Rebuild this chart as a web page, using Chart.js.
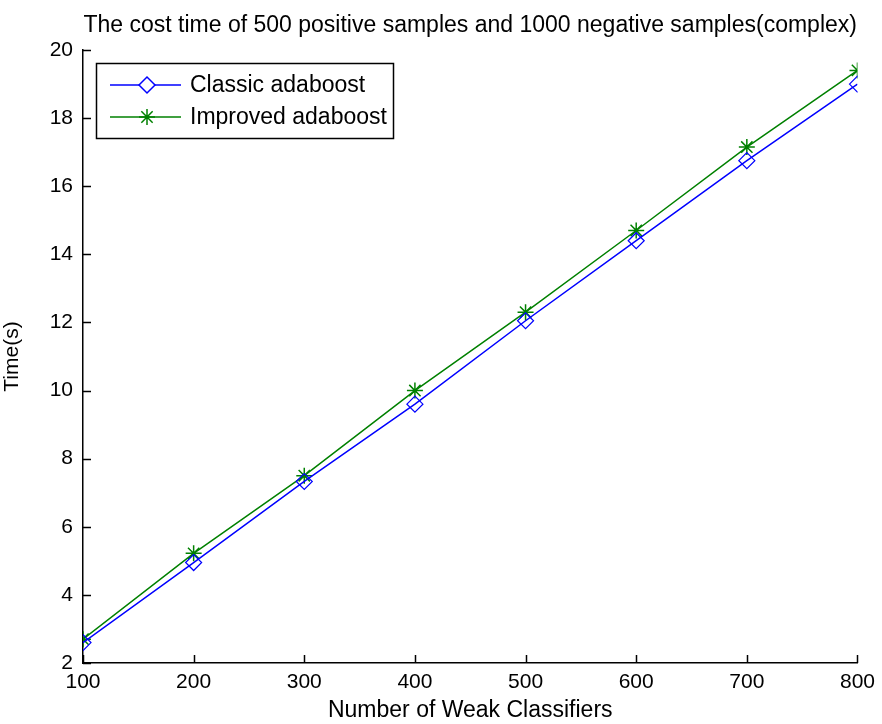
<!DOCTYPE html>
<html>
<head>
<meta charset="utf-8">
<script src="https://cdn.jsdelivr.net/npm/chart.js@4/dist/chart.umd.min.js"></script>
<style>
  html, body { margin: 0; padding: 0; background: #fff; }
  #wrap { width: 882px; height: 724px; }
</style>
</head>
<body>
<div id="wrap"><canvas id="chart" width="882" height="724"></canvas></div>
<script>
// --- Data ---
const classifiers = [100, 200, 300, 400, 500, 600, 700, 800];
const classicTime = [2.6, 4.95, 7.33, 9.6, 12.05, 14.4, 16.75, 19.0];
const improvedTime = [2.7, 5.22, 7.5, 10.0, 12.3, 14.7, 17.15, 19.4];
const seriesNames = ['Classic adaboost', 'Improved adaboost'];
const titleText = 'The cost time of 500 positive samples and 1000 negative samples(complex)';

const FONT = '"Liberation Sans", Arial, sans-serif';

const toPoints = (xs, ys) => xs.map((x, i) => ({ x, y: ys[i] }));

// title centred over the plot area (not the whole canvas)
const titlePlugin = {
  id: 'plotTitle',
  afterDraw(chart) {
    const { ctx, chartArea } = chart;
    ctx.save();
    ctx.font = '23px ' + FONT;
    ctx.fillStyle = '#000';
    ctx.textAlign = 'center';
    ctx.textBaseline = 'middle';
    ctx.fillText(titleText, (chartArea.left + chartArea.right) / 2, 26);
    ctx.restore();
  }
};

// inward tick marks, matlab style
const tickPlugin = {
  id: 'innerTicks',
  afterDatasetsDraw(chart) {
    const { ctx, chartArea, scales } = chart;
    ctx.save();
    ctx.strokeStyle = '#000';
    ctx.lineWidth = 1.5;
    ctx.beginPath();
    scales.x.ticks.forEach(t => {
      const px = Math.round(scales.x.getPixelForValue(t.value)) + 0.5;
      ctx.moveTo(px, chartArea.bottom);
      ctx.lineTo(px, chartArea.bottom - 8);
    });
    scales.y.ticks.forEach(t => {
      const py = Math.round(scales.y.getPixelForValue(t.value)) + 0.5;
      ctx.moveTo(chartArea.left, py);
      ctx.lineTo(chartArea.left + 8, py);
    });
    ctx.stroke();
    ctx.restore();
  }
};

// boxed legend inside the plot, top-left
const legendPlugin = {
  id: 'boxLegend',
  afterDraw(chart) {
    const { ctx } = chart;
    const x0 = 96, y0 = 63, w = 297, h = 75;
    ctx.save();
    ctx.fillStyle = '#fff';
    ctx.fillRect(x0, y0, w, h);
    ctx.strokeStyle = '#000';
    ctx.lineWidth = 1.5;
    ctx.strokeRect(x0 + 0.5, y0 + 0.5, w, h);
    ctx.font = '23px ' + FONT;
    ctx.textBaseline = 'middle';
    chart.data.datasets.forEach((ds, i) => {
      const yy = y0 + 22 + i * 32;
      ctx.strokeStyle = ds.borderColor;
      ctx.lineWidth = 1.5;
      ctx.beginPath();
      ctx.moveTo(x0 + 14, yy);
      ctx.lineTo(x0 + 85, yy);
      ctx.stroke();
      Chart.helpers.drawPoint(ctx, {
        pointStyle: ds.pointStyle,
        radius: ds.pointRadius,
        borderWidth: ds.pointBorderWidth,
        rotation: 0
      }, x0 + 51, yy);
      ctx.fillStyle = '#000';
      ctx.fillText(ds.label, x0 + 94, yy + 1);
    });
    ctx.restore();
  }
};

const chart = new Chart(document.getElementById('chart'), {
  type: 'line',
  data: {
    datasets: [
      {
        label: seriesNames[0],
        data: toPoints(classifiers, classicTime),
        borderColor: '#0000ff',
        backgroundColor: '#ffffff',
        borderWidth: 1.5,
        pointStyle: 'rectRot',
        pointRadius: 8,
        pointBorderWidth: 1.2,
        pointBackgroundColor: 'rgba(255,255,255,0)',
        tension: 0
      },
      {
        label: seriesNames[1],
        data: toPoints(classifiers, improvedTime),
        borderColor: '#008000',
        backgroundColor: '#008000',
        borderWidth: 1.5,
        pointStyle: 'star',
        pointRadius: 8,
        pointBorderWidth: 1.5,
        tension: 0
      }
    ]
  },
  options: {
    responsive: false,
    animation: false,
    events: [],
    layout: { padding: { left: 0, right: 20, top: 50, bottom: 0 } },
    plugins: {
      legend: { display: false },
      tooltip: { enabled: false },
      title: { display: false }
    },
    scales: {
      x: {
        type: 'linear',
        min: 100,
        max: 800,
        afterFit(s) { s.height = 61; },
        ticks: { stepSize: 100, color: '#000', padding: 7, font: { family: FONT, size: 21 } },
        grid: { display: false, drawTicks: false },
        border: { display: true, color: '#000', width: 1.5 },
        title: {
          display: true,
          text: 'Number of Weak Classifiers',
          color: '#000',
          font: { family: FONT, size: 23 },
          padding: { top: 0, bottom: 0 }
        }
      },
      y: {
        min: 2,
        max: 20,
        afterFit(s) { s.width = 83; },
        ticks: { stepSize: 2, color: '#000', padding: 10, font: { family: FONT, size: 21 } },
        grid: { display: false, drawTicks: false },
        border: { display: true, color: '#000', width: 1.5 },
        title: {
          display: true,
          text: 'Time(s)',
          color: '#000',
          font: { family: FONT, size: 21 },
          padding: { top: 0, bottom: 0 }
        }
      }
    }
  },
  plugins: [tickPlugin, legendPlugin, titlePlugin]
});
</script>
</body>
</html>
